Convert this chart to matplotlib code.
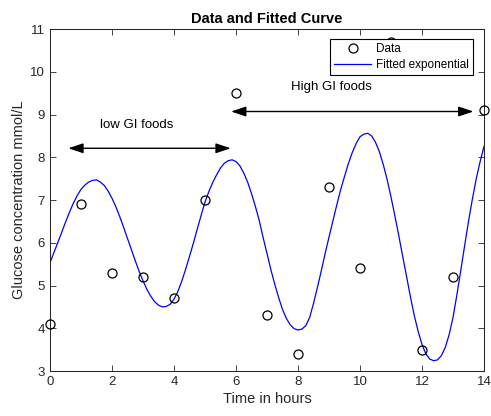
import numpy as np
import matplotlib
matplotlib.use("Agg")
import matplotlib.pyplot as plt

plt.rcParams['font.family'] = ['Liberation Sans', 'DejaVu Sans']

# Observed data
t_data = [0, 1, 2, 3, 4, 5, 6, 7, 8, 9, 10, 11, 12, 13, 14]
glucose = [4.1, 6.9, 5.3, 5.2, 4.7, 7.0, 9.5, 4.3, 3.4, 7.3, 5.4, 10.7, 3.5, 5.2, 9.1]

# Fitted curve at 0.125 h steps (0 .. 14 h)
fit_vals = [5.53, 5.77, 6.00, 6.24, 6.48, 6.71, 6.92, 7.10, 7.25, 7.35, 7.42, 7.46, 7.47,
            7.42, 7.34, 7.21, 7.04, 6.84, 6.61, 6.36, 6.10, 5.84, 5.58, 5.33, 5.11, 4.91,
            4.75, 4.62, 4.54, 4.50,
            4.51, 4.56, 4.68, 4.86, 5.10, 5.38, 5.68, 5.99, 6.32, 6.64, 6.95, 7.20, 7.41,
            7.59, 7.75, 7.86, 7.92, 7.94,
            7.90, 7.80, 7.63, 7.42, 7.15, 6.85, 6.52, 6.12, 5.75, 5.37, 5.03, 4.72, 4.44,
            4.23, 4.08, 3.99, 3.96,
            3.98, 4.06, 4.25, 4.58, 4.95, 5.34, 5.75, 6.13, 6.51, 6.88, 7.24, 7.55, 7.85,
            8.11, 8.32, 8.48, 8.54,
            8.56, 8.50, 8.35, 8.13, 7.83, 7.48, 7.07, 6.63, 6.17, 5.69, 5.22, 4.74, 4.30,
            3.93, 3.62, 3.40, 3.28, 3.24,
            3.26, 3.36, 3.55, 3.85, 4.25, 4.78, 5.35, 5.93, 6.50, 7.02, 7.50, 7.90, 8.25]
t_fit = np.linspace(0, 14, len(fit_vals))

x_ticks = [0, 2, 4, 6, 8, 10, 12, 14]
y_ticks = [3, 4, 5, 6, 7, 8, 9, 10, 11]

dark = '#262626'

fig = plt.figure(figsize=(4.91, 4.16), dpi=100)
ax = fig.add_axes([50/491, 45/416, 434/491, 342/416])

ax.plot(t_data, glucose, 'o', mfc='none', mec='black', ms=6.5, mew=0.9,
        label='Data', clip_on=False, zorder=3)
ax.plot(t_fit, fit_vals, '-', color='#0000ff', lw=0.9, label='Fitted exponential', zorder=2)

ax.set_xlim(0, 14)
ax.set_ylim(3, 11)
ax.set_xticks(x_ticks)
ax.set_yticks(y_ticks)
ax.tick_params(direction='in', length=4, width=0.6, colors=dark, labelsize=9.5,
               top=True, right=True, labelcolor=dark)
for s in ax.spines.values():
    s.set_color(dark)
    s.set_linewidth(0.75)

ax.set_xlabel('Time in hours', fontsize=10.5, color=dark, labelpad=3)
ax.set_ylabel('Glucose concentration mmol/L', fontsize=10.5, color=dark, labelpad=3)
ax.set_title('Data and Fitted Curve', fontsize=10.5, fontweight='bold', color='black', pad=4)

# Arrows and annotations
arrow_style = '<|-|>,head_length=0.9,head_width=0.3'
ax.annotate('', xy=(5.83, 8.21), xytext=(0.59, 8.21),
            arrowprops=dict(arrowstyle=arrow_style, color='black', lw=1.0,
                            shrinkA=0, shrinkB=0))
ax.annotate('', xy=(13.66, 9.07), xytext=(5.84, 9.07),
            arrowprops=dict(arrowstyle=arrow_style, color='black', lw=1.0,
                            shrinkA=0, shrinkB=0))
ax.text(2.80, 8.75, 'low GI foods', fontsize=9.5, ha='center', va='center', color='black')
ax.text(9.07, 9.65, 'High GI foods', fontsize=9.5, ha='center', va='center', color='black')

leg = ax.legend(loc='upper right', bbox_to_anchor=(0.975, 0.971), borderaxespad=0,
                fontsize=8.5, frameon=True, fancybox=False, edgecolor='black',
                framealpha=1, handlelength=3.2, handletextpad=0.4,
                borderpad=0.35, labelspacing=0.35)
leg.get_frame().set_linewidth(0.8)
leg.set_zorder(5)

fig.savefig('out.png', dpi=100)
